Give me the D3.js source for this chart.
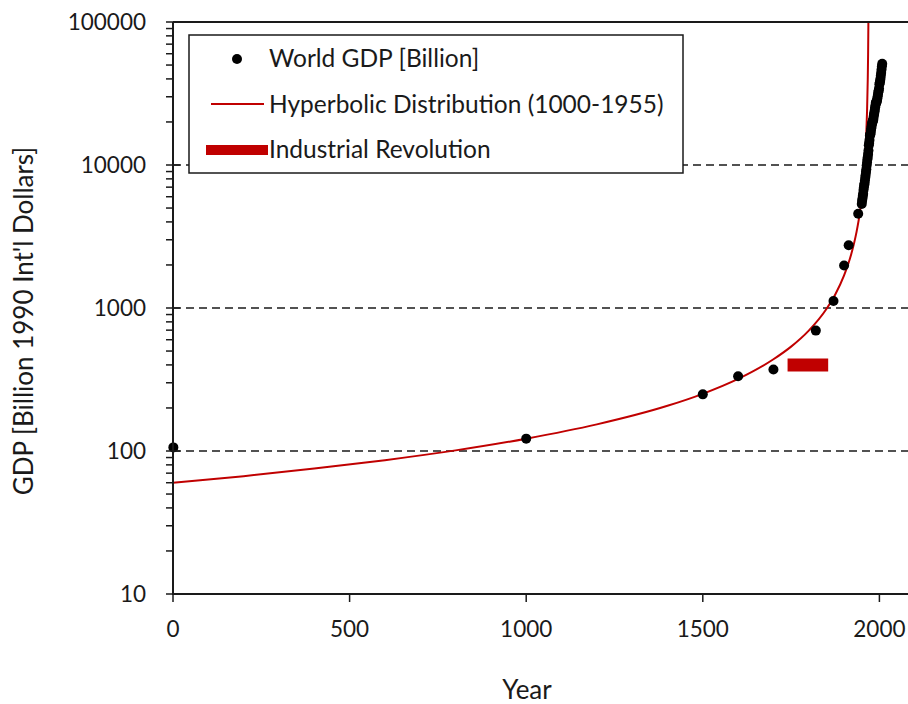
<!DOCTYPE html>
<html lang="en">
<head>
<meta charset="UTF-8">
<title>World GDP</title>
<script src="https://d3js.org/d3.v7.min.js"></script>
<style>
  body { margin: 0; background: #fff; }
  text { font-family: Lato, "Open Sans", sans-serif; fill: #1a1a1a; }
</style>
</head>
<body>
<div id="chart"></div>
<script>
// World GDP, billion 1990 int'l dollars
let gdpYears = [1, 1000, 1500, 1600, 1700, 1820, 1870, 1900, 1913, 1940,
  1950, 1951, 1952, 1953, 1954, 1955, 1956, 1957, 1958, 1959,
  1960, 1961, 1962, 1963, 1964, 1965, 1966, 1967, 1968, 1969,
  1970, 1971, 1972, 1973, 1974, 1975, 1976, 1977, 1978, 1979,
  1980, 1981, 1982, 1983, 1984, 1985, 1986, 1987, 1988, 1989,
  1990, 1991, 1992, 1993, 1994, 1995, 1996, 1997, 1998, 1999,
  2000, 2001, 2002, 2003, 2004, 2005, 2006, 2007, 2008]
let gdpValues = [106, 122, 249, 333, 372, 695, 1120, 1985, 2750, 4560,
  5340, 5600, 5810, 6080, 6300, 6680, 6970, 7250, 7430, 7790,
  8190, 8500, 8940, 9330, 9920, 10400, 10950, 11370, 11950, 12620,
  13760, 14260, 14960, 16020, 16340, 16600, 17390, 18040, 18770, 19420,
  19850, 20240, 20520, 21100, 22000, 22730, 23440, 24280, 25360, 26230,
  27360, 27100, 27670, 28100, 29030, 30050, 31140, 32380, 33080, 34270,
  36700, 37560, 38690, 40120, 42160, 44220, 46570, 49110, 50970]

// hyperbolic fit curve
let hypYears = [0, 200, 400, 600, 800, 1000, 1200, 1400, 1500, 1600, 1700, 1750, 1800,
  1850, 1875, 1900, 1920, 1935, 1945, 1955, 1960, 1963, 1965, 1967, 1968, 1968.8]
let hypValues = [60, 66.7, 75.3, 86.3, 101, 122, 153.5, 207, 251, 319, 438, 537, 695,
  985, 1244, 1689, 2364, 3377, 4728, 7880, 11820, 16886, 23640, 39400, 59100, 98500]

// industrial revolution bar
let indYears = [1740, 1855]
let indLevel = 400

let yTicks = [10, 100, 1000, 10000, 100000]
let xTicks = [0, 500, 1000, 1500, 2000]

let width = 908, height = 704
let plotLeft = 173, plotTop = 22, plotBottom = 594

let svg = d3.select("#chart").append("svg")
  .attr("width", width)
  .attr("height", height)

let x = d3.scaleLinear().domain([0, 2100]).range([plotLeft, plotLeft + 2100 * 0.3532])
let y = d3.scaleLog().domain([10, 100000]).range([plotBottom, plotTop])

// dashed gridlines
svg.selectAll(".grid").data(yTicks.slice(1, 4)).enter().append("line")
  .attr("x1", plotLeft).attr("x2", width)
  .attr("y1", d => y(d)).attr("y2", d => y(d))
  .attr("stroke", "#1a1a1a").attr("stroke-width", 1.6)
  .attr("stroke-dasharray", "8,5")

// minor ticks on y axis
let minor = []
yTicks.slice(0, 4).forEach(function(t) {
  for (let k = 2; k <= 9; k++) minor.push(t * k)
})

svg.append("defs").append("clipPath").attr("id", "clip")
  .append("rect").attr("x", plotLeft - 10).attr("y", plotTop)
  .attr("width", width - plotLeft + 10).attr("height", plotBottom - plotTop)

let plot = svg.append("g").attr("clip-path", "url(#clip)")

// hyperbolic curve
let line = d3.line()
  .x((d, i) => x(hypYears[i]))
  .y(d => y(d))
  .curve(d3.curveMonotoneX)

plot.append("path")
  .datum(hypValues)
  .attr("d", line)
  .attr("fill", "none")
  .attr("stroke", "#c00000")
  .attr("stroke-width", 2)

// vertical asymptote part to the top
plot.append("line")
  .attr("x1", x(1968.8)).attr("x2", x(1968.9))
  .attr("y1", y(98500)).attr("y2", plotTop - 5)
  .attr("stroke", "#c00000").attr("stroke-width", 2)

// industrial revolution bar
plot.append("line")
  .attr("x1", x(indYears[0])).attr("x2", x(indYears[1]))
  .attr("y1", y(indLevel)).attr("y2", y(indLevel))
  .attr("stroke", "#c00000").attr("stroke-width", 13)

// data points
plot.selectAll(".pt").data(gdpValues).enter().append("circle")
  .attr("cx", (d, i) => x(gdpYears[i]))
  .attr("cy", d => y(d))
  .attr("r", 5)
  .attr("fill", "#000")

// axes
let yAxis = svg.append("g")
yAxis.append("line").attr("x1", plotLeft).attr("x2", plotLeft).attr("y1", plotTop).attr("y2", plotBottom + 1)
  .attr("stroke", "#1a1a1a").attr("stroke-width", 2)
yAxis.selectAll(".minor").data(minor).enter().append("line")
  .attr("x1", plotLeft - 7).attr("x2", plotLeft)
  .attr("y1", d => y(d)).attr("y2", d => y(d))
  .attr("stroke", "#1a1a1a").attr("stroke-width", 1.5)
yAxis.selectAll(".major").data(yTicks).enter().append("line")
  .attr("x1", plotLeft - 7).attr("x2", plotLeft + 7)
  .attr("y1", d => y(d)).attr("y2", d => y(d))
  .attr("stroke", "#1a1a1a").attr("stroke-width", 1.5)
yAxis.selectAll(".lbl").data(yTicks).enter().append("text")
  .attr("x", 146).attr("y", d => y(d))
  .attr("dy", "0.36em")
  .attr("text-anchor", "end")
  .style("font-size", "22.5px")
  .text(d => d)

let xAxis = svg.append("g")
xAxis.append("line").attr("x1", plotLeft - 1).attr("x2", width).attr("y1", plotBottom).attr("y2", plotBottom)
  .attr("stroke", "#1a1a1a").attr("stroke-width", 2)
xAxis.selectAll(".tick").data(xTicks).enter().append("line")
  .attr("x1", d => x(d)).attr("x2", d => x(d))
  .attr("y1", plotBottom).attr("y2", plotBottom + 8)
  .attr("stroke", "#1a1a1a").attr("stroke-width", 1.5)
xAxis.selectAll(".lbl").data(xTicks).enter().append("text")
  .attr("x", d => x(d)).attr("y", 637)
  .attr("text-anchor", "middle")
  .style("font-size", "22.5px")
  .text(d => d)

// top border
svg.append("line").attr("x1", plotLeft).attr("x2", width).attr("y1", plotTop).attr("y2", plotTop)
  .attr("stroke", "#1a1a1a").attr("stroke-width", 2)

// axis titles
svg.append("text")
  .attr("x", 527).attr("y", 699)
  .attr("text-anchor", "middle")
  .style("font-size", "26px")
  .text("Year")

svg.append("text")
  .attr("transform", "translate(33,321) rotate(-90)")
  .attr("text-anchor", "middle")
  .style("font-size", "26px")
  .text("GDP [Billion 1990 Int'l Dollars]")

// legend
let lg = svg.append("g")
lg.append("rect")
  .attr("x", 189).attr("y", 35).attr("width", 494).attr("height", 138)
  .attr("fill", "#fff").attr("stroke", "#1a1a1a").attr("stroke-width", 1.5)

lg.append("circle").attr("cx", 237).attr("cy", 59).attr("r", 5).attr("fill", "#000")
lg.append("line").attr("x1", 211).attr("x2", 264).attr("y1", 104).attr("y2", 104)
  .attr("stroke", "#c00000").attr("stroke-width", 2)
lg.append("line").attr("x1", 206).attr("x2", 268).attr("y1", 150).attr("y2", 150)
  .attr("stroke", "#c00000").attr("stroke-width", 10)

let legendText = ["World GDP [Billion]", "Hyperbolic Distribution (1000-1955)", "Industrial Revolution"]
lg.selectAll(".lt").data(legendText).enter().append("text")
  .attr("x", 269).attr("y", (d, i) => 67 + i * 45.5)
  .style("font-size", "24.5px")
  .text(d => d)
</script>
</body>
</html>
